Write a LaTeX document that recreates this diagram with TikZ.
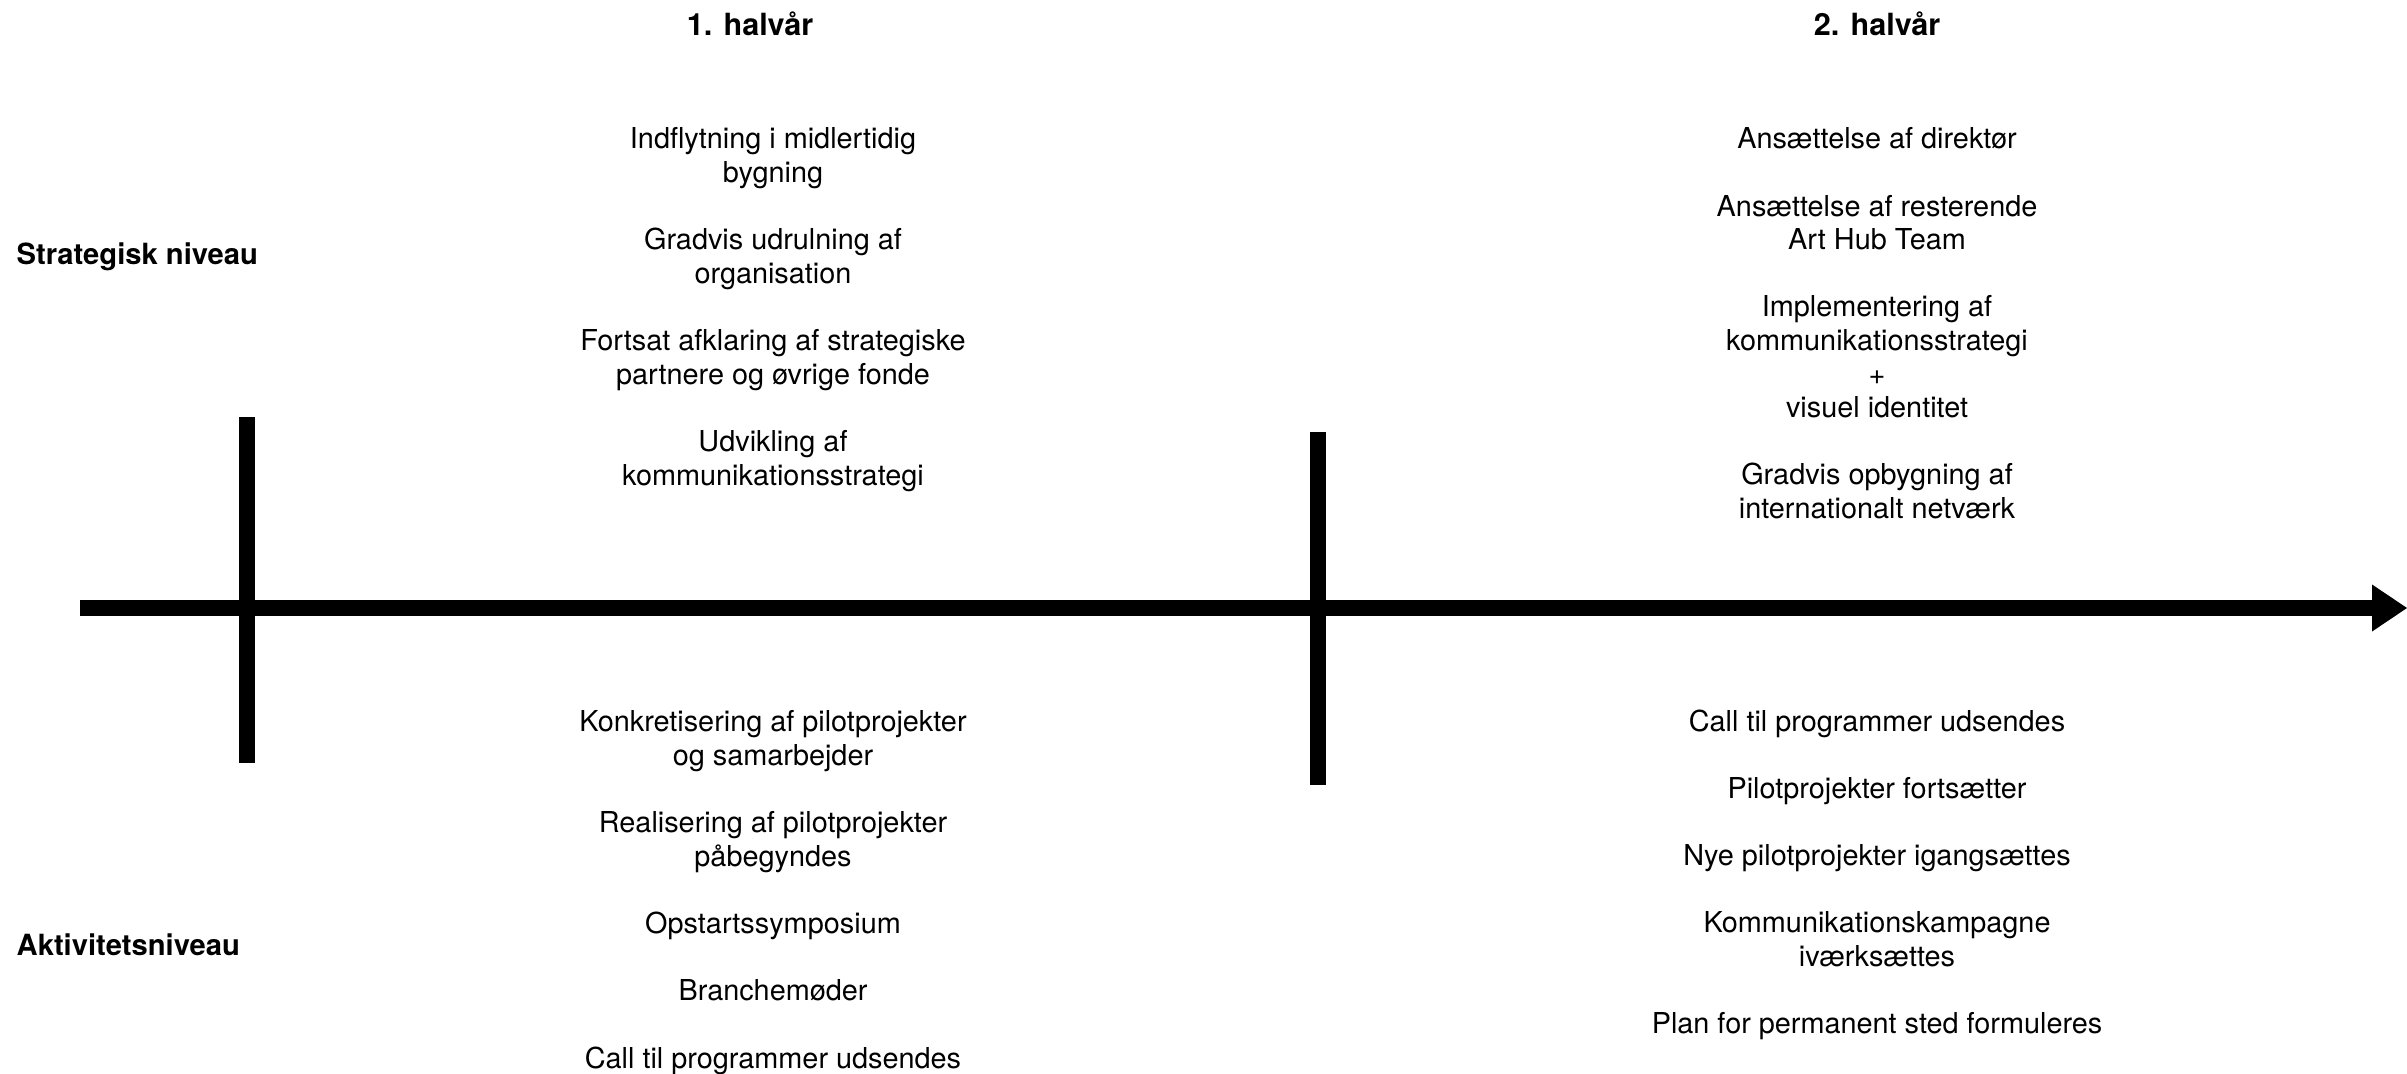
\documentclass[tikz,border=0pt]{standalone}
\usepackage{fontspec}
\setmainfont{TeX Gyre Heros}
\begin{document}
\begin{tikzpicture}[x=0.01cm,y=-0.01cm]
\tikzset{
  body/.style={font=\fontsize{8.2}{9.56}\selectfont, align=center, anchor=base, inner sep=0pt},
  head/.style={font=\bfseries\fontsize{8.7}{10}\selectfont, anchor=base, inner sep=0pt},
  level/.style={font=\bfseries\fontsize{8.3}{10}\selectfont, anchor=base west, inner sep=0pt},
  bar/.style={line width=4.6pt},
}
\useasboundingbox (0,0) rectangle (2407,1073);
% axis
\coordinate (axisL) at (80,608);
\coordinate (axisR) at (2373,608);
\coordinate (tip) at (2407,608);
\draw[bar] (axisL) -- (axisR);
\fill (2372,584.5) -- (tip) -- (2372,631.5) -- cycle;
% ticks
\coordinate (t1a) at (247,417);
\coordinate (t1b) at (247,763);
\draw[bar] (t1a) -- (t1b);
\coordinate (t2a) at (1318,432);
\coordinate (t2b) at (1318,785);
\draw[bar] (t2a) -- (t2b);
% headers
\node[head] (h1) at (750,36) {1. halvår};
\node[head] (h2) at (1877,36) {2. halvår};
\node[level] (strat) at (16,264) {Strategisk niveau};
\node[level] (akt) at (16,955) {Aktivitetsniveau};
% upper left (anchor = baseline of last line)
\node[body] (ul1) at (773,182.6) {Indflytning i midlertidig\\bygning};
\node[body] (ul2) at (773,283.4) {Gradvis udrulning af\\organisation};
\node[body] (ul3) at (773,384.2) {Fortsat afklaring af strategiske\\partnere og øvrige fonde};
\node[body] (ul4) at (773,485) {Udvikling af\\kommunikationsstrategi};
% upper right
\node[body] (ur1) at (1877,149) {Ansættelse af direktør};
\node[body] (ur2) at (1877,249.8) {Ansættelse af resterende\\Art Hub Team};
\node[body] (ur3) at (1877,417.8) {Implementering af\\kommunikationsstrategi\\+\\visuel identitet};
\node[body] (ur4) at (1877,518.6) {Gradvis opbygning af\\internationalt netværk};
% lower left
\node[body] (ll1) at (773,765.6) {Konkretisering af pilotprojekter\\og samarbejder};
\node[body] (ll2) at (773,866.4) {Realisering af pilotprojekter\\påbegyndes};
\node[body] (ll3) at (773,933.6) {Opstartssymposium};
\node[body] (ll4) at (773,1000.8) {Branchemøder};
\node[body] (ll5) at (773,1068) {Call til programmer udsendes};
% lower right
\node[body] (lr1) at (1877,731) {Call til programmer udsendes};
\node[body] (lr2) at (1877,798.2) {Pilotprojekter fortsætter};
\node[body] (lr3) at (1877,865.4) {Nye pilotprojekter igangsættes};
\node[body] (lr4) at (1877,966.2) {Kommunikationskampagne\\iværksættes};
\node[body] (lr5) at (1877,1033.4) {Plan for permanent sted formuleres};
\end{tikzpicture}
\end{document}
